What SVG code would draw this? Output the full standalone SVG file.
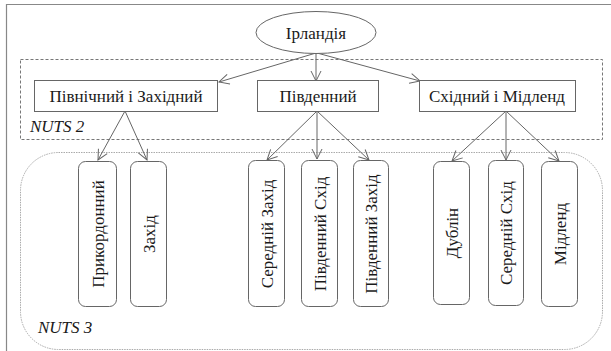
<svg xmlns="http://www.w3.org/2000/svg" width="611" height="351" viewBox="0 0 611 351">
<style>
text{font-family:'Liberation Serif','Times New Roman',serif;font-size:17px;fill:#1a1a1a}
.t{text-anchor:middle}
.it{font-style:italic}
.box{fill:#fff;stroke:#666;stroke-width:1}
.leaf{fill:#fff;stroke:#666;stroke-width:1}
.c{stroke:#666;stroke-width:1;fill:none;marker-end:url(#ah)}
</style>
<defs>
<marker id="ah" viewBox="0 0 12 12" refX="11" refY="6" markerWidth="12" markerHeight="12" markerUnits="userSpaceOnUse" orient="auto">
<path d="M1,1 L11,6 L1,11" fill="none" stroke="#666" stroke-width="1"/>
</marker>
</defs>
<rect x="0" y="0" width="611" height="351" fill="#fff"/>
<g id="frame">
<path d="M6.5,360 V4.5 H620" fill="none" stroke="#888" stroke-width="1.2"/>
</g>
<g id="nuts3">
<rect x="20.5" y="152.5" width="582" height="197" rx="38" ry="38" fill="none" stroke="#aaa" stroke-width="1" stroke-dasharray="1.5,1"/>
<text class="it" x="38" y="333">NUTS 3</text>
</g>
<g id="nuts2">
<rect x="20.5" y="59.5" width="582" height="80" fill="none" stroke="#777" stroke-width="1" stroke-dasharray="3,2"/>
<text class="it" x="30" y="132">NUTS 2</text>
</g>
<g id="connectors">
<line class="c" x1="316" y1="53" x2="219" y2="82"/>
<line class="c" x1="316" y1="53" x2="316" y2="81"/>
<line class="c" x1="317" y1="53" x2="420" y2="81"/>
<line class="c" x1="125" y1="111" x2="98" y2="160"/>
<line class="c" x1="125" y1="111" x2="147" y2="160"/>
<line class="c" x1="317" y1="111" x2="267" y2="160"/>
<line class="c" x1="317" y1="111" x2="317" y2="159"/>
<line class="c" x1="317" y1="111" x2="369" y2="160"/>
<line class="c" x1="506" y1="111" x2="452" y2="161"/>
<line class="c" x1="506" y1="111" x2="506" y2="160"/>
<line class="c" x1="506" y1="111" x2="559" y2="161"/>
</g>
<g id="n-ireland">
<ellipse cx="316" cy="32.5" rx="60" ry="21" class="box"/>
<text class="t" x="316" y="38.5">Ірландія</text>
</g>
<g id="n-nw">
<rect x="34.5" y="80.5" width="183" height="31" class="box"/>
<text class="t" x="126" y="102">Північний і Західний</text>
</g>
<g id="n-south">
<rect x="257.5" y="80.5" width="121" height="31" class="box"/>
<text class="t" x="318" y="102">Південний</text>
</g>
<g id="n-east">
<rect x="419.5" y="80.5" width="156" height="31" class="box"/>
<text class="t" x="497" y="102">Східний і Мідленд</text>
</g>
<g id="n-border">
<rect x="78.5" y="161.5" width="38" height="145" rx="7" class="leaf"/>
<text class="t" transform="translate(103.5,234) rotate(-90)">Прикордонний</text>
</g>
<g id="n-west">
<rect x="130.5" y="161.5" width="36" height="145" rx="7" class="leaf"/>
<text class="t" transform="translate(154.5,234) rotate(-90)">Захід</text>
</g>
<g id="n-midwest">
<rect x="248.5" y="160.5" width="36" height="146" rx="7" class="leaf"/>
<text class="t" transform="translate(272.5,234) rotate(-90)">Середній Захід</text>
</g>
<g id="n-southeast">
<rect x="301.5" y="160.5" width="36" height="146" rx="7" class="leaf"/>
<text class="t" transform="translate(325.5,234) rotate(-90)">Південний Схід</text>
</g>
<g id="n-southwest">
<rect x="353.5" y="160.5" width="35" height="146" rx="7" class="leaf"/>
<text class="t" transform="translate(377,234) rotate(-90)">Південний Захід</text>
</g>
<g id="n-dublin">
<rect x="433.5" y="161.5" width="36" height="143" rx="7" class="leaf"/>
<text class="t" transform="translate(457.5,233) rotate(-90)">Дублін</text>
</g>
<g id="n-mideast">
<rect x="488.5" y="160.5" width="35" height="145" rx="7" class="leaf"/>
<text class="t" transform="translate(512,233) rotate(-90)">Середній Схід</text>
</g>
<g id="n-midland">
<rect x="541.5" y="161.5" width="36" height="145" rx="7" class="leaf"/>
<text class="t" transform="translate(565.5,234) rotate(-90)">Мідленд</text>
</g>
</svg>
